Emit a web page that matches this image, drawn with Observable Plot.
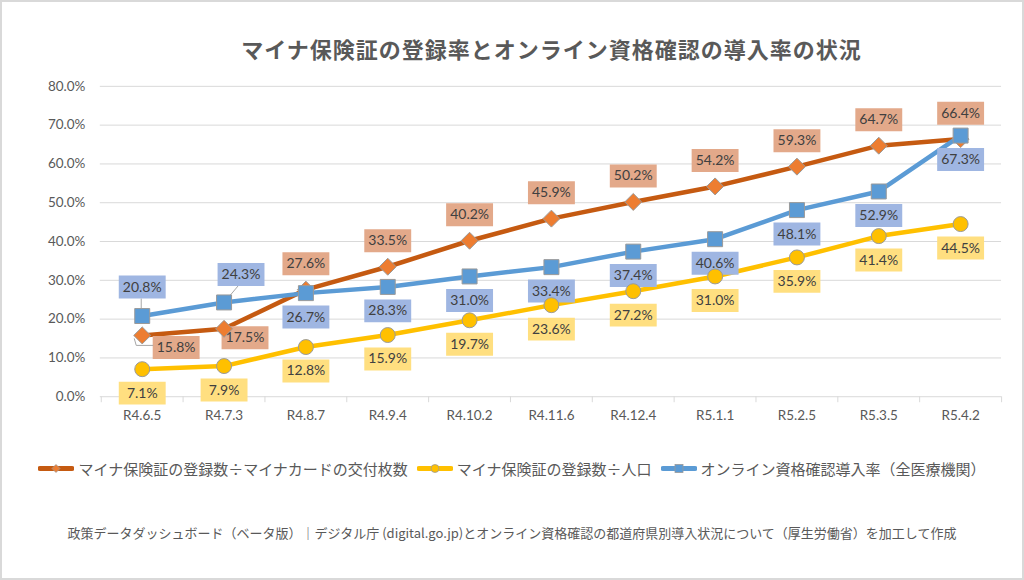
<!DOCTYPE html>
<html><head><meta charset="utf-8">
<script src="https://cdn.jsdelivr.net/npm/d3@7"></script>
<script src="https://cdn.jsdelivr.net/npm/@observablehq/plot@0.6"></script>
<style>
html,body{margin:0;padding:0;background:#fff;}
#frame{position:relative;width:1024px;height:580px;box-sizing:border-box;border:2px solid #d9d9d9;overflow:hidden;background:#fff;}
#chart{position:absolute;left:-2px;top:-2px;}
#title{position:absolute;left:98px;width:903px;top:30px;text-align:center;font-family:"Noto Sans CJK JP",sans-serif;font-weight:bold;font-size:22px;letter-spacing:1px;color:#595959;}
#legend{position:absolute;left:0;width:1020px;top:456px;display:flex;justify-content:center;gap:9px;font-family:"Noto Sans CJK JP",sans-serif;font-size:15px;color:#595959;}
#legend .item{display:flex;align-items:center;gap:4px;}
#caption{position:absolute;left:0;width:1020px;top:521px;text-align:center;font-family:"Noto Sans CJK JP",sans-serif;font-size:13px;color:#595959;}
</style>
</head><body>
<div id="frame">
<div id="chart"></div>
<div id="title"></div>
<div id="legend"></div>
<div id="caption"></div>
</div>
<script>
const titleText = "マイナ保険証の登録率とオンライン資格確認の導入率の状況";
const captionText = "政策データダッシュボード（ベータ版）｜デジタル庁 (digital.go.jp)とオンライン資格確認の都道府県別導入状況について（厚生労働省）を加工して作成";
const dates = ["R4.6.5","R4.7.3","R4.8.7","R4.9.4","R4.10.2","R4.11.6","R4.12.4","R5.1.1","R5.2.5","R5.3.5","R5.4.2"];
const seriesNames = ["マイナ保険証の登録数÷マイナカードの交付枚数","マイナ保険証の登録数÷人口","オンライン資格確認導入率（全医療機関）"];
const cardRate = [15.8,17.5,27.6,33.5,40.2,45.9,50.2,54.2,59.3,64.7,66.4];
const popRate = [7.1,7.9,12.8,15.9,19.7,23.6,27.2,31.0,35.9,41.4,44.5];
const onlineRate = [20.8,24.3,26.7,28.3,31.0,33.4,37.4,40.6,48.1,52.9,67.3];
const yTicks = [0,10,20,30,40,50,60,70,80];

document.getElementById("title").textContent = titleText;
document.getElementById("caption").textContent = captionText;

const styles = [
  {line:"#C55A11", marker:"#ED7D31", box:"#E3A98A", shape:"diamond"},
  {line:"#FFC000", marker:"#FFC000", box:"#FFDF80", shape:"circle"},
  {line:"#5B9BD5", marker:"#5B9BD5", box:"#9FB6E2", shape:"square"}
];
const values = [cardRate, popRate, onlineRate];
const rows = values.map((vals, s) => vals.map((v, i) => ({s, i, date: dates[i], v})));

const sym = {
  diamond: {draw(c){c.moveTo(0,-8.5);c.lineTo(8.5,0);c.lineTo(0,8.5);c.lineTo(-8.5,0);c.closePath();}},
  square: {draw(c){c.rect(-7.5,-7.5,15,15);}},
  circle: {draw(c){c.moveTo(7.5,0);c.arc(0,0,7.5,0,2*Math.PI);}},
  box: {draw(c){c.rect(-23.5,-11.5,47,23);}}
};
const leader = (pts) => ({draw(c){c.moveTo(pts[0][0],pts[0][1]);for(const p of pts.slice(1))c.lineTo(p[0],p[1]);}});

const W = 1024, H = 440, mL = 100, mR = 21;
const bw = (W - mL - mR) / dates.length;
const fmt = d => d.toFixed(1) + "%";
const numFont = "Lato, 'Noto Sans', sans-serif";

function labelMarks(data, s, dx, dy) {
  return [
    Plot.dot(data, {x:"date", y:"v", symbol: sym.box, r: 5, fill: styles[s].box, stroke: "none", dx, dy}),
    Plot.text(data, {x:"date", y:"v", text: d => fmt(d.v), dx, dy, fill:"#404040", fontSize: 14, fontFamily: numFont})
  ];
}

const marks = [
  Plot.gridY(yTicks, {stroke:"#d9d9d9", strokeOpacity:1, strokeWidth:1}),
  Plot.axisY(yTicks, {tickSize:0, tickPadding:15, tickFormat: fmt, label:null, fill:"#595959", fontSize:13.5, fontFamily:numFont}),
  Plot.axisX({tickSize:0, tickPadding:14, label:null, fill:"#595959", fontSize:13.5, fontFamily:numFont}),
  Plot.ruleX(dates, {x: d => d, y1: 0, y2: 0, dx: -bw/2, insetBottom: -6, stroke:"#d9d9d9"}),
  Plot.ruleX(dates.slice(-1), {x: d => d, y1: 0, y2: 0, dx: bw/2, insetBottom: -6, stroke:"#d9d9d9"}),
  ...rows.map((r, s) => Plot.line(r, {x:"date", y:"v", stroke: styles[s].line, strokeWidth: 4.5, strokeLinejoin:"round", strokeLinecap:"round"})),
  // labels: orange
  ...labelMarks(rows[0].filter(d => d.i >= 2), 0, 0, -26),
  ...labelMarks(rows[0].filter(d => d.i === 0), 0, 34, 12),
  ...labelMarks(rows[0].filter(d => d.i === 1), 0, 21, 9),
  // yellow
  ...labelMarks(rows[1], 1, 0, 24),
  // blue
  ...labelMarks(rows[2].filter(d => d.i >= 2), 2, 0, 24),
  ...labelMarks(rows[2].filter(d => d.i === 0), 2, 0, -29),
  ...labelMarks(rows[2].filter(d => d.i === 1), 2, 17, -28),
  // leader lines
  Plot.dot(rows[2].filter(d => d.i === 0), {x:"date", y:"v", symbol: leader([[-1,-7.5],[-1,-17.5]]), r:5, fill:"none", stroke:"#a6a6a6", strokeWidth:1}),
  Plot.dot(rows[2].filter(d => d.i === 1), {x:"date", y:"v", symbol: leader([[1,-1],[14,-16.5]]), r:5, fill:"none", stroke:"#a6a6a6", strokeWidth:1}),
  Plot.dot(rows[0].filter(d => d.i === 0), {x:"date", y:"v", symbol: leader([[-8,3],[-6,10],[11,10]]), r:5, fill:"none", stroke:"#a6a6a6", strokeWidth:1}),
  // markers
  ...rows.map((r, s) => Plot.dot(r, {x:"date", y:"v", symbol: sym[styles[s].shape], r: 5, fill: styles[s].marker, stroke:"#9a9a9a", strokeWidth:1}))
];

const chart = Plot.plot({
  width: W, height: H,
  marginTop: 86, marginBottom: 43, marginLeft: mL, marginRight: mR,
  x: {type:"band", domain: dates, padding: 0},
  y: {domain: [0, 80]},
  style: {background:"transparent", fontFamily: numFont},
  marks
});
document.getElementById("chart").appendChild(chart);

// legend
const legend = document.getElementById("legend");
seriesNames.forEach((name, s) => {
  const item = document.createElement("div");
  item.className = "item";
  const st = styles[s];
  let m;
  if (st.shape === "diamond") m = `<path d="M18,2.5L22,6.5L18,10.5L14,6.5Z" fill="${st.marker}" stroke="#9a9a9a" stroke-width="0.8"/>`;
  else if (st.shape === "circle") m = `<circle cx="18" cy="6.5" r="4" fill="${st.marker}" stroke="#9a9a9a" stroke-width="0.8"/>`;
  else m = `<rect x="14" y="2.5" width="8" height="8" fill="${st.marker}" stroke="#9a9a9a" stroke-width="0.8"/>`;
  item.innerHTML = `<svg width="36" height="13"><line x1="2" y1="6.5" x2="34" y2="6.5" stroke="${st.line}" stroke-width="5" stroke-linecap="round"/>${m}</svg><span>${name}</span>`;
  legend.appendChild(item);
});
</script>
</body></html>
